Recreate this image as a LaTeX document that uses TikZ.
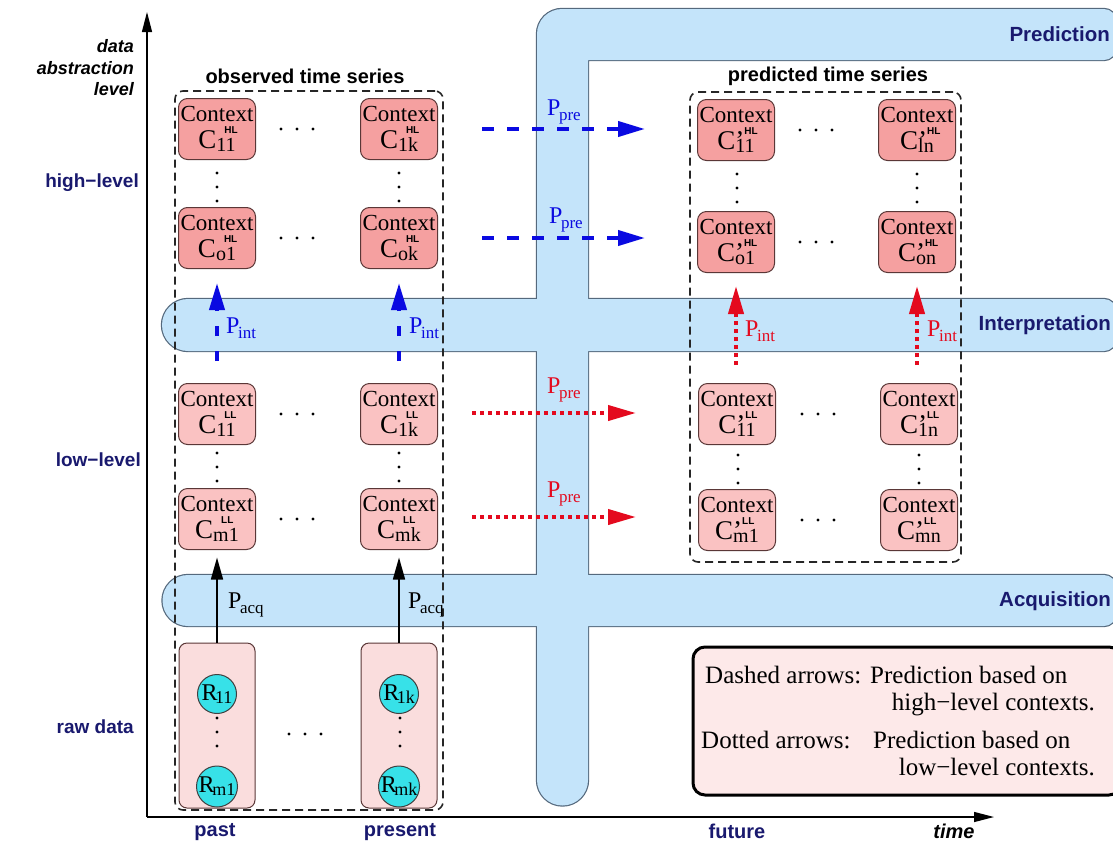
\documentclass[tikz,border=0pt]{standalone}
\usepackage{fontspec}
\setmainfont{Liberation Serif}
\setsansfont{Liberation Sans}
\usetikzlibrary{arrows.meta}

\definecolor{bandblue}{RGB}{196,228,250}
\definecolor{bandline}{RGB}{85,105,125}
\definecolor{hlfill}{RGB}{245,160,160}
\definecolor{llfill}{RGB}{250,194,194}
\definecolor{rawfill}{RGB}{250,221,221}
\definecolor{notefill}{RGB}{253,233,233}
\definecolor{boxline}{RGB}{90,55,55}
\definecolor{cyanball}{RGB}{55,225,232}
\definecolor{navy}{RGB}{25,25,110}
\definecolor{arrblue}{RGB}{10,10,225}
\definecolor{arrred}{RGB}{228,10,30}

% context symbol: C, optional prime, level tag above, index below
\newcommand{\ctxC}[3]{{\fontsize{27}{27}\selectfont C}\rlap{#1\raisebox{15pt}{\fontsize{10}{10}\selectfont\sffamily\bfseries #2}}\raisebox{-3pt}{\fontsize{20}{27}\selectfont #3}}
\newcommand{\ctxobs}[2]{Context\\\ctxC{\hspace{8pt}}{#1}{#2}}
\newcommand{\ctxpre}[2]{Context\\\ctxC{{\fontsize{27}{27}\selectfont ’}}{#1}{#2}}
\newcommand{\Psub}[1]{P\kern-1.5pt\raisebox{-5pt}{\fontsize{17}{17}\selectfont #1}}
\newcommand{\Rsub}[1]{R\kern-2.5pt\raisebox{-3pt}{\fontsize{18}{18}\selectfont #1}}

\begin{document}
\begin{tikzpicture}[x=1pt,y=-1pt,
  band edge/.style={draw=bandline,line width=2.4pt},
  band body/.style={fill=bandblue},
  hlbox/.style={draw=boxline,line width=1pt,fill=hlfill,rounded corners=9pt,
    minimum width=77pt,minimum height=61pt,inner sep=0pt,align=center,
    font=\fontsize{23}{27}\selectfont},
  llbox/.style={hlbox,fill=llfill},
  rawbox/.style={draw=boxline,line width=1pt,fill=rawfill,rounded corners=8pt,
    minimum width=76pt,minimum height=165pt,inner sep=0pt},
  ball/.style={circle,draw=black!75,line width=1pt,fill=cyanball,
    minimum size=39pt,inner sep=0pt,font=\fontsize{24}{24}\selectfont},
  series/.style={draw=black!85,line width=1.6pt,dash pattern=on 8pt off 5pt,
    rounded corners=8pt,inner sep=0pt},
  serieslabel/.style={font=\fontsize{20}{24}\selectfont\sffamily\bfseries,inner sep=0pt},
  levellabel/.style={font=\fontsize{19}{22}\selectfont\sffamily\bfseries,text=navy,inner sep=0pt},
  timelabel/.style={font=\fontsize{20}{22}\selectfont\sffamily\bfseries,text=navy,inner sep=0pt},
  bandlabel/.style={font=\fontsize{20.5}{24}\selectfont\sffamily\bfseries,text=navy,inner sep=0pt,anchor=east},
  plabel/.style={font=\fontsize{24}{24}\selectfont,inner sep=0pt,anchor=base west},
  notetext/.style={font=\fontsize{25}{28}\selectfont,inner sep=0pt},
  axis/.style={line width=1.3pt,-{Triangle[length=20pt,width=10pt]}},
  hlpre/.style={draw=arrblue,line width=4pt,dash pattern=on 12pt off 13pt,
    -{Triangle[length=27pt,width=15pt]}},
  hlint/.style={draw=arrblue,line width=4pt,dash pattern=on 10pt off 15pt,
    -{Triangle[length=27pt,width=15pt]}},
  llpre/.style={draw=arrred,line width=4pt,dash pattern=on 4pt off 4pt,
    -{Triangle[length=28pt,width=15pt]}},
  acq/.style={draw=black,line width=1.6pt,-{Triangle[length=22pt,width=12pt]}},
  dot/.style={fill=black}
]
\useasboundingbox (0,0) rectangle (1113,846);

% ---- process bands: outlines first, fills on top so crossings merge ----
\path[band edge] (588,60) -- (1104,60) arc[start angle=-90,end angle=0,radius=12pt]
  -- (1116,21) arc[start angle=0,end angle=90,radius=12pt]
  -- (562,9) arc[start angle=90,end angle=180,radius=25pt]
  -- (537,780) arc[start angle=180,end angle=360,radius=25.5pt] -- cycle;
\path[band edge] (188,299) -- (1104,299) arc[start angle=90,end angle=0,radius=12pt]
  -- (1116,339) arc[start angle=0,end angle=-90,radius=12pt]
  -- (188,351) arc[start angle=270,end angle=90,radius=26pt] -- cycle;
\path[band edge] (188,575) -- (1104,575) arc[start angle=90,end angle=0,radius=12pt]
  -- (1116,614) arc[start angle=0,end angle=-90,radius=12pt]
  -- (188,626) arc[start angle=270,end angle=90,radius=25.5pt] -- cycle;
\path[band body] (588,60) -- (1104,60) arc[start angle=-90,end angle=0,radius=12pt]
  -- (1116,21) arc[start angle=0,end angle=90,radius=12pt]
  -- (562,9) arc[start angle=90,end angle=180,radius=25pt]
  -- (537,780) arc[start angle=180,end angle=360,radius=25.5pt] -- cycle;
\path[band body] (188,299) -- (1104,299) arc[start angle=90,end angle=0,radius=12pt]
  -- (1116,339) arc[start angle=0,end angle=-90,radius=12pt]
  -- (188,351) arc[start angle=270,end angle=90,radius=26pt] -- cycle;
\path[band body] (188,575) -- (1104,575) arc[start angle=90,end angle=0,radius=12pt]
  -- (1116,614) arc[start angle=0,end angle=-90,radius=12pt]
  -- (188,626) arc[start angle=270,end angle=90,radius=25.5pt] -- cycle;

\node[bandlabel] (lblpred) at (1110,34) {Prediction};
\node[bandlabel] (lblint) at (1111,325) {Interpretation};
\node[bandlabel] (lblacq) at (1111,601) {Acquisition};

% ---- axes ----
\coordinate (origin) at (147,817);
\coordinate (ytop) at (147,12);
\coordinate (xend) at (994,817);
\draw[axis] (origin) -- (ytop);
\draw[axis] (origin) -- (xend);

\node[font=\fontsize{18}{21.5}\selectfont\sffamily\bfseries\itshape,align=right,anchor=east,inner sep=0pt]
  (yname) at (134,68) {data\\abstraction\\level};
\node[levellabel,anchor=east] (hlname) at (139,183) {high−level};
\node[levellabel,anchor=east] (llname) at (141,460) {low−level};
\node[levellabel,anchor=east] (rawname) at (134,727) {raw data};

\node[timelabel] (tpast) at (215,832) {past};
\node[timelabel] (tpresent) at (400,832) {present};
\node[timelabel] (tfuture) at (737,831) {future};
\node[timelabel,text=black,font=\fontsize{20}{22}\selectfont\sffamily\bfseries\itshape] (tname) at (954,831) {time};

% ---- time series frames ----
\node[series,minimum width=268pt,minimum height=719pt] (obsbox) at (309,450.5) {};
\node[series,minimum width=271pt,minimum height=470pt] (prebox) at (825.5,327) {};
\node[serieslabel] (obslabel) at (305,76) {observed time series};
\node[serieslabel] (prelabel) at (828,76) {predicted time series};

% ---- observed contexts ----
\node[hlbox] (oh11) at (217,129) {\ctxobs{HL}{11}};
\node[hlbox] (oh1k) at (399,129) {\ctxobs{HL}{1k}};
\node[hlbox] (oho1) at (217,238) {\ctxobs{HL}{o1}};
\node[hlbox] (ohok) at (399,238) {\ctxobs{HL}{ok}};
\node[llbox] (ol11) at (217,414) {\ctxobs{LL}{11}};
\node[llbox] (ol1k) at (399,414) {\ctxobs{LL}{1k}};
\node[llbox] (olm1) at (217,519) {\ctxobs{LL}{m1}};
\node[llbox] (olmk) at (399,519) {\ctxobs{LL}{mk}};

% ---- predicted contexts ----
\node[hlbox] (ph11) at (736,130) {\ctxpre{HL}{11}};
\node[hlbox] (ph1n) at (917,130) {\ctxpre{HL}{ln}};
\node[hlbox] (pho1) at (736,242) {\ctxpre{HL}{o1}};
\node[hlbox] (phon) at (917,242) {\ctxpre{HL}{on}};
\node[llbox] (pl11) at (737,414) {\ctxpre{LL}{11}};
\node[llbox] (pl1n) at (919,414) {\ctxpre{LL}{1n}};
\node[llbox] (plm1) at (737,520) {\ctxpre{LL}{m1}};
\node[llbox] (plmn) at (919,520) {\ctxpre{LL}{mn}};

% ---- raw data ----
\node[rawbox] (raw1) at (217,725.5) {};
\node[rawbox] (rawk) at (399,725.5) {};
\node[ball] (r11) at (217,694) {\Rsub{11}};
\node[ball] (rm1) at (217,786.5) {\Rsub{m1}};
\node[ball] (r1k) at (399,694) {\Rsub{1k}};
\node[ball] (rmk) at (399,786.5) {\Rsub{mk}};

% ---- ellipsis dots ----
\foreach \x/\y in {297/129,297/238,297/414,297/519,816/130,816/242,818/414,818/520,305/734}
  \foreach \d in {-16,0,16} \fill[dot] (\x+\d,\y) circle[radius=1.7pt];
\foreach \x/\y in {217/173,399/173,217/453,399/453,737/174,917/174,738/455,919/455,217/718,400/718}
  \foreach \d in {0,14,28} \fill[dot] (\x,\y+\d) circle[radius=1.7pt];

% ---- acquisition ----
\draw[acq,shorten >=7.5pt] (raw1) -- (olm1);
\draw[acq,shorten >=7.5pt] (rawk) -- (olmk);
\node[plabel] (pa1) at (228,608) {\Psub{acq}};
\node[plabel] (pak) at (408,608) {\Psub{acq}};

% ---- interpretation ----
\draw[hlint,shorten <=22pt,shorten >=14pt] (ol11) -- (oho1);
\draw[hlint,shorten <=22pt,shorten >=14pt] (ol1k) -- (ohok);
\node[plabel,text=arrblue] (pi1) at (226,333) {\Psub{int}};
\node[plabel,text=arrblue] (pik) at (409,333) {\Psub{int}};
\draw[llpre,shorten <=18pt,shorten >=13pt] (pl11.north -| pho1) -- (pho1);
\draw[llpre,shorten <=18pt,shorten >=13pt] (pl1n.north -| phon) -- (phon);
\node[plabel,text=arrred] (pi2) at (745,336) {\Psub{int}};
\node[plabel,text=arrred] (pin) at (927,336) {\Psub{int}};

% ---- prediction ----
\coordinate (hp1s) at (482,129); \coordinate (hp1e) at (645,129);
\coordinate (hp2s) at (482,238); \coordinate (hp2e) at (645,238);
\coordinate (lp1s) at (472,413); \coordinate (lp1e) at (636,413);
\coordinate (lp2s) at (472,517); \coordinate (lp2e) at (636,517);
\draw[hlpre] (hp1s) -- (hp1e);
\draw[hlpre] (hp2s) -- (hp2e);
\draw[llpre] (lp1s) -- (lp1e);
\draw[llpre] (lp2s) -- (lp2e);
\node[plabel,text=arrblue] (pp1) at (547,115) {\Psub{pre}};
\node[plabel,text=arrblue] (pp2) at (549,223) {\Psub{pre}};
\node[plabel,text=arrred] (pp3) at (547,393) {\Psub{pre}};
\node[plabel,text=arrred] (pp4) at (547,497) {\Psub{pre}};

% ---- legend ----
\node[draw=black,line width=3pt,fill=notefill,rounded corners=12pt,
  minimum width=428pt,minimum height=148pt,inner sep=0pt] (note) at (907,721) {};
\node[notetext,anchor=base west] (n1a) at (705,683) {Dashed arrows:};
\node[notetext,anchor=base west] (n1b) at (870,683) {Prediction based on};
\node[notetext,anchor=base east] (n2) at (1095,710) {high−level contexts.};
\node[notetext,anchor=base west] (n3a) at (701,748) {Dotted arrows:};
\node[notetext,anchor=base west] (n3b) at (873,748) {Prediction based on};
\node[notetext,anchor=base east] (n4) at (1095,775) {low−level contexts.};
\end{tikzpicture}
\end{document}
